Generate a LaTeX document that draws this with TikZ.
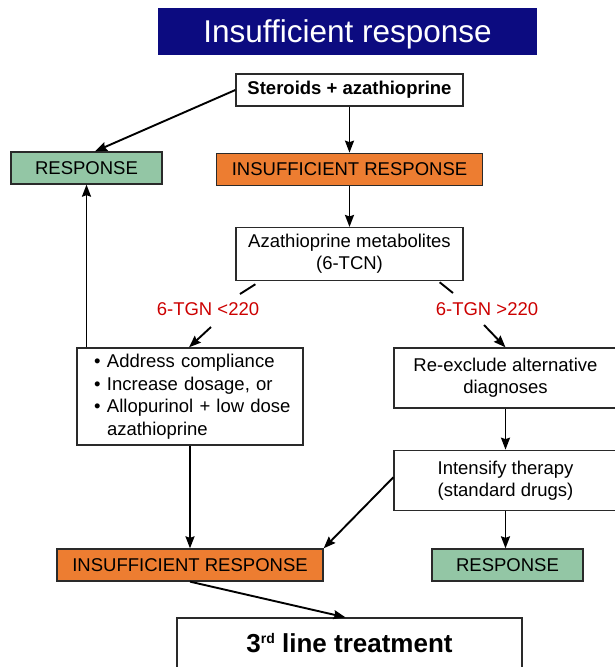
\documentclass[tikz,border=0pt]{standalone}
\usepackage{fontspec}
\setmainfont{Liberation Sans}
\usetikzlibrary{arrows.meta,positioning}
\definecolor{banner}{HTML}{0C0B80}
\definecolor{orangefill}{HTML}{ED7D31}
\definecolor{greenfill}{HTML}{93C6A5}
\definecolor{cutred}{HTML}{CC0000}
\definecolor{edge}{HTML}{2A2A2A}

\begin{document}
\begin{tikzpicture}[x=1pt,y=-1pt,
  node distance=41pt and 12pt,
  box/.style={draw=edge,line width=1.3pt,fill=white,align=center,inner sep=0pt,font=\fontsize{18.5}{22}\selectfont},
  resp/.style={box,fill=greenfill,minimum height=32pt},
  insuf/.style={box,fill=orangefill,minimum height=32pt},
  cut/.style={text=cutred,inner sep=0pt,font=\fontsize{18.5}{22}\selectfont},
  arr/.style={-{Stealth[length=12pt,width=9pt,inset=1.5pt]},line width=1.9pt}
]
\useasboundingbox (0,0) rectangle (615,667);
\node[fill=banner,text=white,minimum width=379pt,minimum height=47pt,inner sep=0pt,text height=23pt,text depth=1pt,font=\fontsize{31.5}{36}\selectfont] (title) at (347.5,31.5) {Insufficient response};
\node[box,minimum width=227pt,minimum height=32pt,font=\fontsize{18.5}{22}\selectfont\bfseries] (start) at (349.5,90) {Steroids + azathioprine};
\node[insuf,minimum width=266pt,below=46pt of start] (insA) {INSUFFICIENT RESPONSE};
\node[resp,minimum width=151pt] (respA) at (86.5,168) {RESPONSE};
\node[box,minimum width=227pt,minimum height=53pt,below=of insA] (meta) {Azathioprine metabolites\\(6-TCN)};
\node[cut] (lo) at (208,309) {6-TGN <220};
\node[cut] (hi) at (487,309) {6-TGN >220};
\node[box,minimum width=226pt,minimum height=97pt,text width=208pt,inner xsep=9pt,align=left,font=\fontsize{18.5}{22.5}\selectfont] (adj) at (190,396.5)
  {\hspace*{8pt}\makebox[13pt][l]{\textbullet}Address compliance\\
   \hspace*{8pt}\makebox[13pt][l]{\textbullet}Increase dosage, or\\
   \hspace*{8pt}\makebox[13pt][l]{\textbullet}Allopurinol + low dose\\
   \hspace*{21pt}azathioprine};
\node[box,minimum width=223pt,minimum height=60pt] (reex) at (505.5,378) {Re-exclude alternative\\diagnoses};
\node[box,minimum width=223pt,minimum height=60pt,below=41pt of reex] (intens) {Intensify therapy\\(standard drugs)};
\node[resp,minimum width=151pt] (respB) at (507.5,565) {RESPONSE};
\node[insuf,minimum width=266pt] (insB) at (190,565) {INSUFFICIENT RESPONSE};
\node[box,minimum width=345pt,minimum height=50pt,font=\fontsize{26}{30}\selectfont\bfseries] (third) at (349.5,643) {3\raisebox{9pt}{\fontsize{14}{14}\selectfont rd} line treatment};
% connectors
\draw[arr] (start.west) -- ([xshift=8.5pt]respA.north);
\draw[arr] (start) -- (insA);
\draw[arr] (insA) -- (meta);
\draw[line width=1.9pt] ([shift={(20,3)}]meta.south west) -- ([shift={(32,-15)}]lo.center);
\draw[arr] ([shift={(3,18)}]lo.center) -- ([xshift=-1pt]adj.north);
\draw[line width=1.9pt] ([shift={(-24,1)}]meta.south east) -- ([shift={(-34,-16)}]hi.center);
\draw[arr] ([shift={(-3,16)}]hi.center) -- (reex.north);
\draw[arr] (reex) -- (intens);
\draw[arr] (intens.south) -- (intens.south |- respB.north);
\draw[arr] ([yshift=3pt]intens.west) -- (insB.north east);
\draw[arr] (adj.north west -| respA.south) -- (respA.south);
\draw[arr] (adj) -- (insB);
\draw[arr] (insB.south) -- ([xshift=-4pt]third.north);
\end{tikzpicture}
\end{document}
